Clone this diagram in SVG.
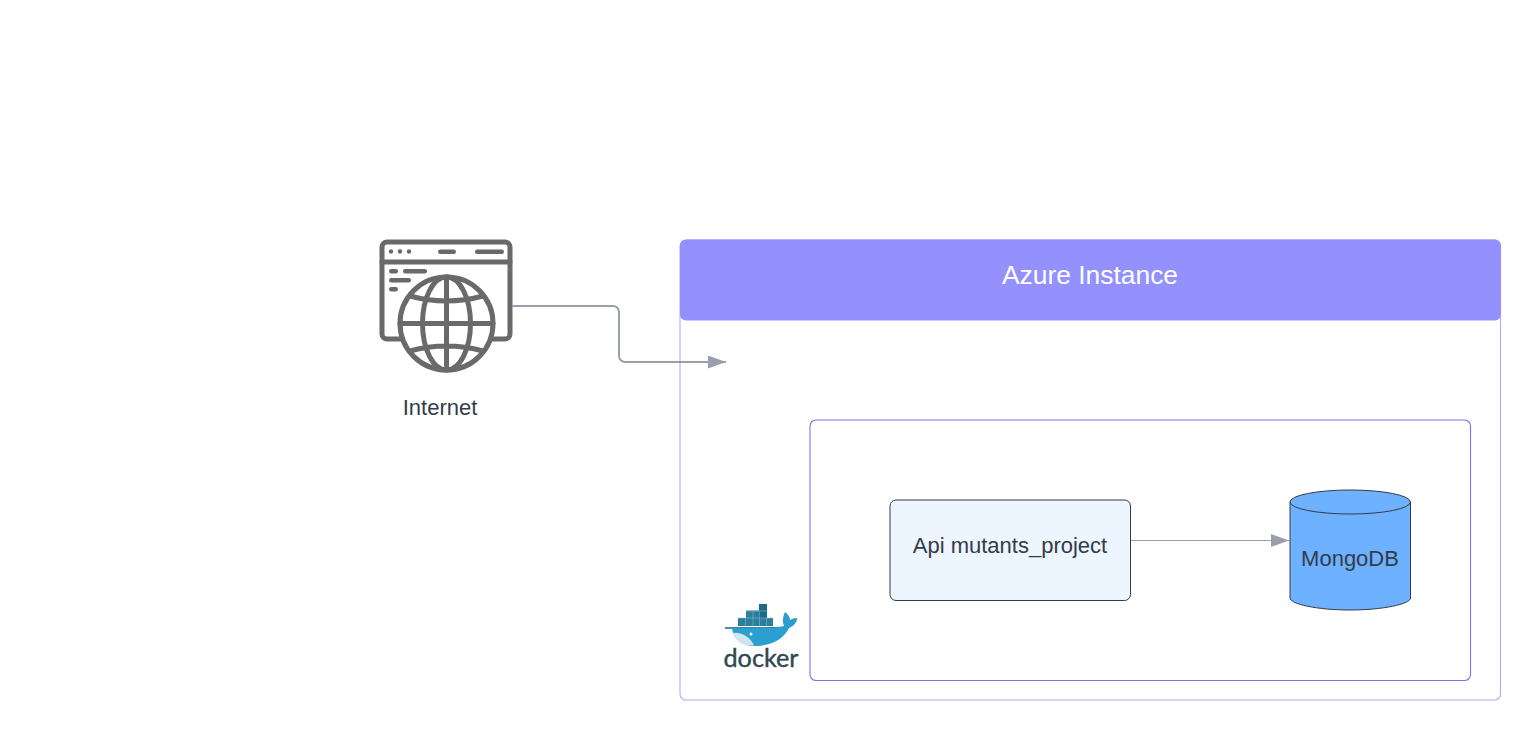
<svg xmlns="http://www.w3.org/2000/svg" width="1540" height="740" viewBox="0 0 1540 740">
<style>
text{font-family:"Liberation Sans",Arial,sans-serif;fill:#343b49;font-size:22px;text-anchor:middle}
.ic{fill:none;stroke:#6a6a6a;stroke-width:5;stroke-linecap:round;stroke-linejoin:round}
.bar{fill:#6a6a6a}
.conn{fill:none;stroke:#9aa0ab}
.crate{fill:#2b7f9c}
.crate2{fill:#1c6a85}
</style>
<defs>
<marker id="arrow" markerUnits="userSpaceOnUse" markerWidth="20" markerHeight="14" refX="18" refY="6.500" orient="auto"><path d="M0 0L18 6.500L0 13Z" fill="#9aa0ab"/></marker>
</defs>
<rect width="1540" height="740" fill="#fff"/>
<g id="azure-instance">
<rect x="680" y="240" width="820.500" height="460" rx="6" fill="#fff" stroke="#b0acfc" stroke-width="1.100"/>
<path d="M686 239.500H1495a6 6 0 0 1 6 6V314a6 6 0 0 1-6 6.500H686a6 6 0 0 1-6-6.500V245.500a6 6 0 0 1 6-6Z" fill="#9491ff"/>
<text x="1090" y="283.500" style="fill:#fff;font-size:26.400px">Azure Instance</text>
</g>
<g id="docker-container">
<rect x="810" y="420" width="660.500" height="260.500" rx="6" fill="#fff" stroke="#7a72f0" stroke-width="1.100"/>
</g>
<g id="internet">
<path class="ic" d="M402 339H387a5 5 0 0 1-5-5V247a5 5 0 0 1 5-5H505a5 5 0 0 1 5 5V334a5 5 0 0 1-5 5H491"/>
<path class="ic" d="M382 262H510"/>
<circle class="bar" cx="391" cy="251.500" r="2.200"/><circle class="bar" cx="400" cy="251.500" r="2.200"/><circle class="bar" cx="409" cy="251.500" r="2.200"/>
<rect class="bar" x="438" y="249.500" width="18" height="4.500" rx="2.200"/><rect class="bar" x="475" y="249.500" width="29" height="4.500" rx="2.200"/>
<rect class="bar" x="389" y="269" width="9" height="4.500" rx="2.200"/><rect class="bar" x="403" y="269" width="24" height="4.500" rx="2.200"/>
<rect class="bar" x="389" y="278" width="22" height="4.500" rx="2.200"/><rect class="bar" x="389" y="287" width="9" height="4.500" rx="2.200"/>
<circle cx="446.500" cy="323.500" r="46.500" fill="#fff"/>
<g class="ic">
<circle cx="446.500" cy="323.500" r="46.500"/>
<ellipse cx="446.500" cy="323.500" rx="24" ry="46.500"/>
<path d="M446.500 277V370M400 323.500H493M410 296Q446.500 306 483 296M410 351Q446.500 341 483 351"/>
</g>
<text x="440" y="415">Internet</text>
</g>
<g id="api-mutants-project">
<rect x="890" y="500" width="240.500" height="100.500" rx="6" fill="#edf5ff" stroke="#343b49"/>
<text x="1010" y="553">Api mutants_project</text>
</g>
<g id="mongodb">
<path d="M1290 502V598C1290 604 1317 610 1350 610S1410.500 604 1410.500 598V502Z" fill="#6db1ff" stroke="#343b49"/>
<ellipse cx="1350.200" cy="502" rx="60.200" ry="12" fill="#6db1ff" stroke="#343b49"/>
<text x="1350" y="566">MongoDB</text>
</g>
<g id="docker-logo">
<rect class="crate" x="738" y="618" width="35" height="8"/>
<rect class="crate" x="746" y="610.500" width="21" height="7.500"/>
<rect class="crate2" x="759" y="604" width="8" height="14"/>
<path d="M745.500 618V626M753 618V626M759.500 618V626M766.500 618V626M753 611V618M759.500 611V618M738 618H773M746 611H767" stroke="#8fc0d0" stroke-width="0.500" fill="none"/>
<path d="M725 628H733C745 627 760 629 775 627C779 626.500 781 627 784 626C782 622 783 616 785 612C788 614 790 617 790 620C793 618 795 618 797.500 618.500C796 624 792 627 789 628C784 638 774 645 757 646C743 647 734 640 732 629H725Z" fill="#2a9fd0"/>
<path d="M725 627.500H775" stroke="#1c6a85" stroke-width="0.800" fill="none"/>
<path d="M733 633C742 632 750 637 754 645.500C743 646 735 641 733 633Z" fill="#cfe6ef"/>
<circle cx="751" cy="634" r="1.500" fill="#fff"/>
<text x="761" y="667" textLength="75" lengthAdjust="spacingAndGlyphs" style="fill:#2f4752;stroke:#2f4752;stroke-width:0.400px;font-size:25px;font-family:Lato,'Liberation Sans',sans-serif">docker</text>
</g>
<g id="connectors">
<path class="conn" stroke-width="2" marker-end="url(#arrow)" d="M512 306H613a6 6 0 0 1 6 6V356a6 6 0 0 0 6 6H726"/>
<path class="conn" stroke-width="1.200" marker-end="url(#arrow)" d="M1131 540.500H1289"/>
</g>
</svg>
